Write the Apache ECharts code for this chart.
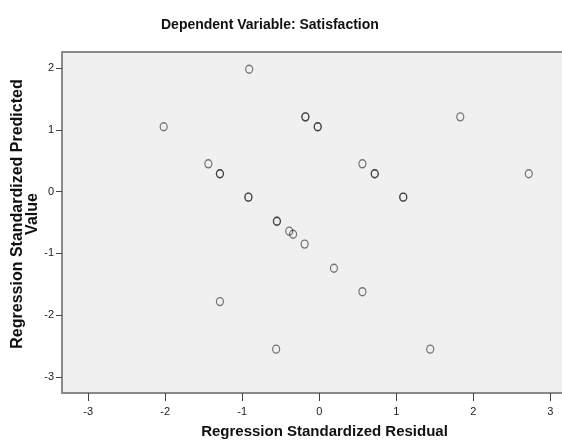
<!DOCTYPE html>
<html>
<head>
<meta charset="utf-8">
<script src="https://cdn.jsdelivr.net/npm/echarts@6/dist/echarts.min.js"></script>
<style>
  html, body { margin: 0; padding: 0; background: #fff; }
  #chart { width: 562px; height: 445px; }
</style>
</head>
<body>
<div id="chart"></div>
<script>
// residual (x) / predicted (y) - duplicate cases are listed twice
var residual = [-2.02, -0.91, -0.18, -0.18, -0.02, -0.02, 1.83,
	-1.44, -1.29, -1.29, 0.56, 0.72, 0.72, 2.72,
	-0.92, -0.92, 1.09, 1.09, -0.55, -0.55,
	-0.39, -0.34, -0.19, 0.19, 0.56, -1.29, -0.56, 1.44];
var predicted = [1.05, 1.98, 1.21, 1.21, 1.05, 1.05, 1.21,
	0.45, 0.29, 0.29, 0.45, 0.29, 0.29, 0.29,
	-0.09, -0.09, -0.09, -0.09, -0.48, -0.48,
	-0.64, -0.69, -0.85, -1.24, -1.62, -1.78, -2.55, -2.55];

// tick labels
var xTicks = [-3, -2, -1, 0, 1, 2, 3];
var yTicks = [-3, -2, -1, 0, 1, 2];

var points = [];
for (var i = 0; i < residual.length; i++) {
	points.push([residual[i], predicted[i]]);
}

var nameFont = {
	fontFamily: 'Liberation Sans',
	fontWeight: 'bold',
	fill: '#111',
	textAlign: 'center',
	textVerticalAlign: 'middle'
};

var chart = echarts.init(document.getElementById('chart'));

var option = {
	animation: false,
	title: {
		text: 'Dependent Variable: Satisfaction',
		left: 156,
		top: 13,
		textStyle: {
			fontFamily: 'Liberation Sans',
			fontSize: 14,
			fontWeight: 'bold',
			color: '#111'
		}
	},
	// y axis title (two lines, rotated)
	graphic: [
		{
			type: 'text',
			x: 18,
			y: 214,
			rotation: Math.PI / 2,
			style: Object.assign({ text: 'Regression Standardized Predicted', fontSize: 16 }, nameFont),
			silent: true
		},
		{
			type: 'text',
			x: 33,
			y: 214,
			rotation: Math.PI / 2,
			style: Object.assign({ text: 'Value', fontSize: 16 }, nameFont),
			silent: true
		}
	],
	grid: {
		left: 62,
		right: -3,
		top: 52,
		bottom: 52,
		outerBoundsMode: 'none',
		containLabel: false,
		show: true,
		backgroundColor: '#f0f0f0',
		borderWidth: 0
	},
	xAxis: {
		type: 'value',
		min: -3.34,
		max: 3.19,
		name: 'Regression Standardized Residual',
		nameLocation: 'middle',
		nameGap: 31,
		nameTextStyle: {
			fontFamily: 'Liberation Sans',
			fontSize: 15,
			fontWeight: 'bold',
			color: '#111',
			padding: [0, 0, 0, 22]
		},
		axisLine: { show: true, onZero: false, lineStyle: { color: '#888', width: 2 } },
		axisTick: { show: true, length: 8, customValues: xTicks, lineStyle: { color: '#444', width: 1 } },
		axisLabel: {
			fontFamily: 'Liberation Sans',
			fontSize: 11,
			color: '#222',
			margin: 13,
			customValues: xTicks
		},
		splitLine: { show: false }
	},
	yAxis: {
		type: 'value',
		min: -3.26,
		max: 2.26,
		axisLine: { show: true, onZero: false, lineStyle: { color: '#888', width: 2 } },
		axisTick: { show: true, length: 6, customValues: yTicks, lineStyle: { color: '#444', width: 1 } },
		axisLabel: {
			fontFamily: 'Liberation Sans',
			fontSize: 11,
			color: '#222',
			margin: 8,
			customValues: yTicks
		},
		splitLine: { show: false }
	},
	series: [
		{
			// top frame line
			type: 'line',
			data: [[-3.34, 2.26], [3.19, 2.26]],
			symbol: 'none',
			silent: true,
			clip: false,
			lineStyle: { color: '#888', width: 2 },
			z: 1
		},
		{
			type: 'scatter',
			data: points,
			symbol: 'circle',
			symbolSize: [7, 8],
			itemStyle: {
				color: 'rgba(0,0,0,0)',
				borderColor: 'rgba(20,20,20,0.7)',
				borderWidth: 1.3
			},
			z: 3
		}
	]
};

chart.setOption(option);
</script>
</body>
</html>
